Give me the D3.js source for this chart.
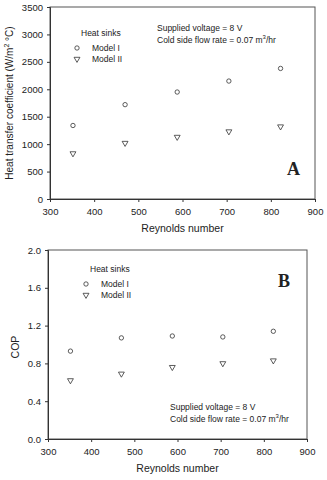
<!DOCTYPE html>
<html>
<head>
<meta charset="utf-8">
<script src="https://cdn.jsdelivr.net/npm/d3@7"></script>
<style>
  body { margin: 0; background: #fff; }
  svg text { font-family: Arial, "Liberation Sans", sans-serif; fill: #222; }
</style>
</head>
<body>
<div id="chart"></div>
<script>
// Reynolds numbers shared by both panels
var reynolds = [352, 470, 588, 705, 822];

// Panel A: heat transfer coefficient (W/m2 C)
var htcModelI  = [1340, 1720, 1950, 2150, 2380];
var htcModelII = [830, 1020, 1130, 1230, 1320];

// Panel B: COP
var copModelI  = [0.93, 1.07, 1.09, 1.08, 1.14];
var copModelII = [0.62, 0.69, 0.76, 0.80, 0.83];

var xTicks = [300, 400, 500, 600, 700, 800, 900];
var htcTicks = [0, 500, 1000, 1500, 2000, 2500, 3000, 3500];
var copTicks = [0.0, 0.4, 0.8, 1.2, 1.6, 2.0];

var svg = d3.select("#chart").append("svg")
    .attr("width", 327)
    .attr("height", 480);

var circleSym = d3.symbol().type(d3.symbolCircle).size(15);
var triSym = d3.symbol().type(d3.symbolTriangle).size(15);

function drawPanel(opt) {
    var g = svg.append("g");
    var x = d3.scaleLinear().domain([300, 900]).range([opt.left, opt.right]);
    var y = d3.scaleLinear().domain(opt.yDomain).range([opt.bottom, opt.top]);

    // frame
    g.append("rect")
        .attr("x", opt.left).attr("y", opt.top)
        .attr("width", opt.right - opt.left).attr("height", opt.bottom - opt.top)
        .attr("fill", "none").attr("stroke", "#555").attr("stroke-width", 1);

    var xAxis = g.append("g")
        .attr("transform", "translate(0," + opt.bottom + ")")
        .call(d3.axisBottom(x).tickValues(xTicks).tickSize(3).tickPadding(6));
    var yAxis = g.append("g")
        .attr("transform", "translate(" + opt.left + ",0)")
        .call(d3.axisLeft(y).tickValues(opt.yTicks).tickSize(3).tickPadding(4).tickFormat(opt.fmt));
    [xAxis, yAxis].forEach(function(a) {
        a.select(".domain").attr("stroke", "#333");
        a.selectAll(".tick line").attr("stroke", "#333");
        a.selectAll(".tick text").attr("font-size", 9.5).attr("fill", "#333")
            .attr("font-family", "Arial, Liberation Sans, sans-serif");
    });

    // points
    g.selectAll(".m1").data(reynolds).enter().append("path")
        .attr("d", circleSym)
        .attr("transform", function(d, i) { return "translate(" + x(d) + "," + y(opt.s1[i]) + ")"; })
        .attr("fill", "none").attr("stroke", "#333").attr("stroke-width", 0.8);
    g.selectAll(".m2").data(reynolds).enter().append("path")
        .attr("d", triSym)
        .attr("transform", function(d, i) { return "translate(" + x(d) + "," + y(opt.s2[i]) + ") rotate(180)"; })
        .attr("fill", "none").attr("stroke", "#333").attr("stroke-width", 0.8);

    // axis titles
    g.append("text")
        .attr("x", (opt.left + opt.right) / 2).attr("y", opt.bottom + 33)
        .attr("text-anchor", "middle").attr("font-size", 10.5)
        .text("Reynolds number");
    opt.yTitle(g);

    // legend
    var lg = opt.legend;
    g.append("text").attr("x", lg.x + 4).attr("y", lg.y).attr("font-size", 8.5).text("Heat sinks");
    g.append("path").attr("d", circleSym)
        .attr("transform", "translate(" + lg.x + "," + (lg.y + 12) + ")")
        .attr("fill", "none").attr("stroke", "#333").attr("stroke-width", 0.8);
    g.append("text").attr("x", lg.x + 15).attr("y", lg.y + 15).attr("font-size", 8.5).attr("fill", "#323248").text("Model I");
    g.append("path").attr("d", triSym)
        .attr("transform", "translate(" + lg.x + "," + (lg.y + 23) + ") rotate(180)")
        .attr("fill", "none").attr("stroke", "#333").attr("stroke-width", 0.8);
    g.append("text").attr("x", lg.x + 15).attr("y", lg.y + 26).attr("font-size", 8.5).attr("fill", "#323248").text("Model II");

    // annotation
    var an = opt.note;
    g.append("text").attr("x", an.x).attr("y", an.y).attr("font-size", 8.5).text("Supplied voltage = 8 V");
    var t2 = g.append("text").attr("x", an.x).attr("y", an.y + 11.5).attr("font-size", 8.5);
    t2.append("tspan").text("Cold side flow rate = 0.07 m");
    t2.append("tspan").attr("dy", -3.5).attr("font-size", 6).text("3");
    t2.append("tspan").attr("dy", 3.5).text("/hr");

    // panel letter
    g.append("text").attr("x", opt.letter.x).attr("y", opt.letter.y)
        .attr("font-weight", "bold").attr("font-size", 18).attr("fill", "#000")
        .style("font-family", "'Times New Roman', 'Liberation Serif', serif")
        .text(opt.letter.t);
}

drawPanel({
    left: 50, right: 315, top: 7, bottom: 199,
    yDomain: [0, 3500], yTicks: htcTicks, fmt: d3.format("d"),
    s1: htcModelI, s2: htcModelII,
    legend: { x: 77, y: 36 },
    note: { x: 157, y: 31 },
    letter: { x: 287, y: 175, t: "A" },
    yTitle: function(g) {
        var t = g.append("text")
            .attr("transform", "translate(13,103) rotate(-90)")
            .attr("text-anchor", "middle").attr("font-size", 10);
        t.append("tspan").text("Heat transfer coefficient (W/m");
        t.append("tspan").attr("dy", -4).attr("font-size", 7).text("2");
        t.append("tspan").attr("dy", 4).text(" \u00B0C)");
    }
});

drawPanel({
    left: 48, right: 307, top: 250, bottom: 439,
    yDomain: [0, 2], yTicks: copTicks, fmt: d3.format(".1f"),
    s1: copModelI, s2: copModelII,
    legend: { x: 86, y: 272 },
    note: { x: 170, y: 410 },
    letter: { x: 278, y: 287, t: "B" },
    yTitle: function(g) {
        g.append("text")
            .attr("transform", "translate(19,347) rotate(-90)")
            .attr("text-anchor", "middle").attr("font-size", 10.5)
            .text("COP");
    }
});
</script>
</body>
</html>
